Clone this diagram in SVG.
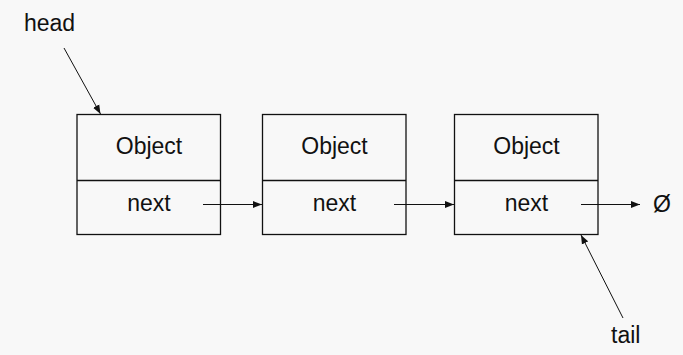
<svg xmlns="http://www.w3.org/2000/svg" width="683" height="355" viewBox="0 0 683 355">
<style>
text{font-family:"Liberation Sans",Arial,sans-serif;font-size:23px;fill:#111}
.box{fill:none;stroke:#111;stroke-width:1.3}
.con{stroke:#111;stroke-width:1;fill:none;marker-end:url(#ah)}
</style>
<defs>
<marker id="ah" markerUnits="userSpaceOnUse" markerWidth="10" markerHeight="8" refX="9" refY="4" orient="auto">
<path d="M0,0.5 L9,4 L0,7.5 Z" fill="#111"/>
</marker>
</defs>
<rect width="683" height="355" fill="#f8f8f8"/>
<g id="head"><text x="24" y="31">head</text></g>
<g id="tail"><text x="611" y="343">tail</text></g>
<g id="null"><text x="653" y="211.5">Ø</text></g>
<g id="node1">
<rect class="box" x="77" y="114.5" width="143.5" height="120"/>
<line class="box" x1="77" y1="180.5" x2="220.5" y2="180.5"/>
<text x="149" y="154" text-anchor="middle">Object</text>
<text x="149" y="211" text-anchor="middle">next</text>
</g>
<g id="node2">
<rect class="box" x="262.5" y="114.5" width="143.5" height="120"/>
<line class="box" x1="262.5" y1="180.5" x2="406" y2="180.5"/>
<text x="334.5" y="154" text-anchor="middle">Object</text>
<text x="334.5" y="211" text-anchor="middle">next</text>
</g>
<g id="node3">
<rect class="box" x="454.5" y="114.5" width="143.5" height="120"/>
<line class="box" x1="454.5" y1="180.5" x2="598" y2="180.5"/>
<text x="526.5" y="154" text-anchor="middle">Object</text>
<text x="526.5" y="211" text-anchor="middle">next</text>
</g>
<g id="connectors">
<line class="con" x1="203" y1="204.5" x2="262" y2="204.5"/>
<line class="con" x1="394" y1="204.5" x2="454" y2="204.5"/>
<line class="con" x1="581" y1="204.5" x2="640" y2="204.5"/>
<line class="con" x1="64" y1="48" x2="100.5" y2="114"/>
<line class="con" x1="623" y1="318" x2="581" y2="235"/>
</g>
</svg>
